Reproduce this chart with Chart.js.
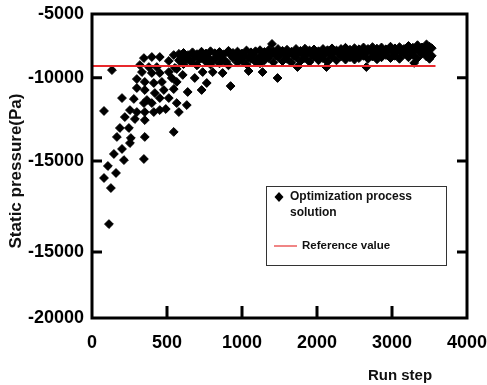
<!DOCTYPE html>
<html>
<head>
<meta charset="utf-8">
<script src="https://cdn.jsdelivr.net/npm/chart.js@4/dist/chart.umd.min.js"></script>
<style>
  html, body { margin: 0; padding: 0; background: #fff; }
  #wrap { width: 487px; height: 385px; position: relative; }
</style>
</head>
<body>
<div id="wrap"><canvas id="myChart"></canvas></div>
<script>
// axis ticks (labels as printed on the original figure)
const xTickValues = [0, 500, 1000, 1500, 2000, 2500];
const xTickLabels = ['0', '500', '1000', '2000', '3000', '4000'];
const yTickValues = [-5000, -9200, -14670, -20660, -25000];
const yTickLabels = ['-5000', '-10000', '-15000', '-15000', '-20000'];

// reference value line
const referenceValue = -8420;
const referenceSteps = [0, 2290];

// optimization process solution, first (scattered) part: [run step, pressure]
const earlyPoints = [
  [80, -11380], [133, -8690], [200, -10530], [279, -10590], [219, -11780], [253, -11320], [299, -11450], [286, -11910],
  [186, -12500], [246, -12500], [166, -13090], [259, -13160], [352, -13090], [346, -10860], [352, -11980], [399, -10860],
  [412, -11450], [352, -11450], [452, -11320], [545, -12760], [492, -11250], [299, -9280], [346, -7900], [399, -7830],
  [452, -7830], [545, -7700], [512, -8090], [319, -8360], [379, -8490], [432, -8490], [333, -8820], [399, -8880],
  [452, -8880], [512, -8820], [565, -8620], [352, -9470], [412, -9540], [466, -9470], [532, -9210], [299, -9870],
  [352, -10000], [419, -10200], [479, -10000], [545, -9940], [366, -10660], [452, -10530], [512, -10530], [565, -10860],
  [579, -11450], [565, -9470], [253, -13490], [200, -13880], [146, -14210], [213, -14610], [346, -14540], [106, -15000],
  [160, -15460], [80, -15790], [126, -16450], [113, -18820], [632, -10990], [638, -10130], [731, -10000], [765, -9540],
  [685, -9210], [605, -9010], [552, -8550], [924, -9740], [1044, -8750], [871, -8880], [805, -8820], [738, -8820],
  [1137, -8820], [1237, -9210], [1200, -6970], [1370, -8490], [1563, -8490], [1829, -8490], [2148, -8220]
];

// converged band
const bandPoints = [
  [580, -7620], [580, -8050], [610, -7560], [610, -8300], [640, -7700], [640, -7950], [670, -7520], [670, -8200],
  [700, -7640], [700, -8380], [730, -7480], [730, -7900], [760, -7600], [760, -8150], [790, -7450], [790, -8320],
  [820, -7580], [820, -7980], [850, -7500], [850, -8250], [880, -7650], [880, -8050], [910, -7420], [910, -8380],
  [940, -7560], [940, -7900], [970, -7470], [970, -8200], [1000, -7600], [1000, -8050], [1030, -7400], [1030, -8300],
  [1060, -7520], [1060, -7950], [1090, -7450], [1090, -8150], [1120, -7380], [1120, -7850], [1120, -8250], [1150, -7500],
  [1150, -8050], [1180, -7350], [1180, -7900], [1210, -7460], [1210, -8180], [1240, -7300], [1240, -7800], [1270, -7420],
  [1270, -8100], [1300, -7350], [1300, -7950], [1330, -7480], [1330, -8200], [1360, -7300], [1360, -7850], [1390, -7420],
  [1390, -8100], [1420, -7280], [1420, -7900], [1450, -7400], [1450, -8150], [1480, -7330], [1480, -7800], [1510, -7450],
  [1510, -8050], [1540, -7300], [1540, -7900], [1570, -7380], [1570, -8150], [1600, -7260], [1600, -7850], [1630, -7400],
  [1630, -8050], [1660, -7300], [1660, -7780], [1690, -7220], [1690, -8000], [1720, -7350], [1720, -7850], [1750, -7250],
  [1750, -7700], [1750, -8000], [1780, -7320], [1780, -7900], [1810, -7200], [1810, -7750], [1840, -7300], [1840, -7950],
  [1870, -7180], [1870, -7800], [1900, -7280], [1900, -7650], [1900, -7980], [1930, -7200], [1930, -7850], [1960, -7320],
  [1960, -7700], [1990, -7150], [1990, -7900], [2020, -7260], [2020, -7750], [2050, -7180], [2050, -7950], [2080, -7300],
  [2080, -7650], [2110, -7100], [2110, -7850], [2140, -7220], [2140, -7700], [2170, -7050], [2170, -7900], [2200, -7200],
  [2200, -7600], [2230, -7000], [2230, -7800], [2250, -7150], [2250, -7650], [2250, -7950], [2265, -7250], [2265, -7750],
  [595, -7850], [625, -7950], [655, -8100], [685, -7800], [715, -8000], [745, -7700], [775, -7850], [805, -8050],
  [835, -7750], [865, -7900], [895, -8150], [925, -7700], [955, -7800], [985, -7950], [1015, -7750], [1045, -7850],
  [1075, -7700], [1105, -7950], [1135, -7650], [1165, -7800], [1195, -7600], [1225, -7750], [1255, -7550], [1285, -7700],
  [1315, -7600], [1345, -7750], [1375, -7550], [1405, -7650], [1435, -7600], [1465, -7700], [1495, -7550], [1525, -7650],
  [1555, -7600], [1585, -7700], [1615, -7550], [1645, -7600], [1675, -7500], [1705, -7650], [1735, -7500], [1765, -7600],
  [1795, -7480], [1825, -7550], [1855, -7450], [1885, -7520], [1915, -7450], [1945, -7550], [1975, -7430], [2005, -7500],
  [2035, -7450], [2065, -7520], [2095, -7400], [2125, -7480], [2155, -7400], [2185, -7450], [2215, -7350], [2240, -7420]
];

const solution = earlyPoints.concat(bandPoints).map(p => ({ x: p[0], y: p[1] }));

const font = 'Liberation Sans, Arial, sans-serif';

// frame, inner tick marks, legend box and axis titles
const decorPlugin = {
  id: 'decor',
  afterDraw(chart) {
    const c = chart.ctx;
    const a = chart.chartArea;
    const xs = chart.scales.x;
    const ys = chart.scales.y;
    c.save();
    c.strokeStyle = '#000';
    c.lineWidth = 3;
    c.strokeRect(a.left, a.top, a.right - a.left, a.bottom - a.top);

    // tick marks point inwards
    c.beginPath();
    xTickValues.slice(1, -1).forEach(v => {
      const px = xs.getPixelForValue(v);
      c.moveTo(px, a.bottom); c.lineTo(px, a.bottom - 12);
    });
    yTickValues.slice(1, -1).forEach(v => {
      const py = ys.getPixelForValue(v);
      c.moveTo(a.left, py); c.lineTo(a.left + 10, py);
      c.moveTo(a.right, py); c.lineTo(a.right - 10, py);
    });
    c.stroke();

    // legend
    c.fillStyle = '#fff';
    c.fillRect(266, 186, 180, 79);
    c.lineWidth = 1;
    c.strokeStyle = '#333';
    c.strokeRect(266.5, 186.5, 180, 79);
    c.fillStyle = '#000';
    c.beginPath();
    c.moveTo(279, 192); c.lineTo(283.5, 197); c.lineTo(279, 202); c.lineTo(274.5, 197);
    c.closePath();
    c.fill();
    c.font = 'bold 12px ' + font;
    c.textBaseline = 'middle';
    c.textAlign = 'left';
    c.fillStyle = '#111';
    c.fillText('Optimization process', 290, 197);
    c.fillText('solution', 290, 213);
    c.strokeStyle = '#f08585';
    c.lineWidth = 2;
    c.beginPath();
    c.moveTo(274, 246); c.lineTo(297, 246);
    c.stroke();
    c.font = 'bold 11.5px ' + font;
    c.fillText('Reference value', 302, 246);

    // axis titles
    c.font = 'bold 15px ' + font;
    c.textAlign = 'center';
    c.fillText('Run step', 400, 376);
    c.translate(16, 171);
    c.rotate(-Math.PI / 2);
    c.font = 'bold 17px ' + font;
    c.fillText('Static pressure(Pa)', 0, 0);
    c.restore();
  }
};

new Chart(document.getElementById('myChart'), {
  type: 'scatter',
  data: {
    datasets: [{
      type: 'line',
      label: 'Reference value',
      data: referenceSteps.map(s => ({ x: s, y: referenceValue })),
      borderColor: '#e8282c',
      borderWidth: 2,
      pointRadius: 0,
      order: 0
    }, {
      label: 'Optimization process solution',
      data: solution,
      pointStyle: 'rectRot',
      pointRadius: 4.4,
      pointHoverRadius: 4.4,
      backgroundColor: '#000',
      borderColor: '#000',
      borderWidth: 1,
      order: 1
    }]
  },
  options: {
    responsive: true,
    maintainAspectRatio: false,
    animation: false,
    layout: { padding: { top: 14, right: 0, left: 0, bottom: 0 } },
    scales: {
      x: {
        type: 'linear',
        min: 0,
        max: 2500,
        afterBuildTicks: s => { s.ticks = xTickValues.map(v => ({ value: v })); },
        afterFit: s => { s.height = 67; s.paddingLeft = 0; s.paddingRight = 20; },
        ticks: {
          callback: (v, i) => xTickLabels[i],
          color: '#000',
          padding: 14,
          maxRotation: 0,
          font: { family: font, size: 18, weight: 'bold' }
        },
        grid: { display: false, drawTicks: false },
        border: { display: false }
      },
      y: {
        type: 'linear',
        min: -25000,
        max: -5000,
        afterBuildTicks: s => { s.ticks = yTickValues.map(v => ({ value: v })); },
        afterFit: s => { s.width = 92; s.paddingTop = 0; s.paddingBottom = 0; },
        ticks: {
          callback: (v, i) => yTickLabels[i],
          color: '#000',
          padding: 8,
          font: { family: font, size: 18, weight: 'bold' }
        },
        grid: { display: false, drawTicks: false },
        border: { display: false }
      }
    },
    plugins: {
      legend: { display: false },
      tooltip: { enabled: false }
    }
  },
  plugins: [decorPlugin]
});
</script>
</body>
</html>
